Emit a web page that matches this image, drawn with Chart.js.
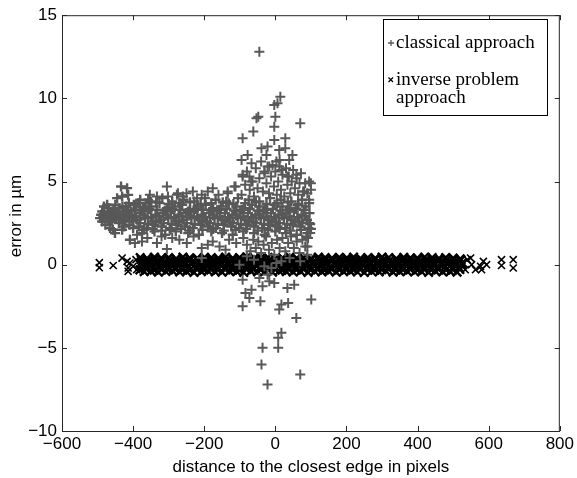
<!DOCTYPE html>
<html>
<head>
<meta charset="utf-8">
<script src="https://cdn.jsdelivr.net/npm/chart.js@4.4.1/dist/chart.umd.min.js"></script>
<style>
  html, body { margin: 0; padding: 0; background: #fff; }
  #box { width: 577px; height: 478px; }
</style>
</head>
<body>
<div id="box"><canvas id="chart" width="577" height="478"></canvas></div>
<script>
// ── data ──
const X_TITLE = 'distance to the closest edge in pixels';
const Y_TITLE = 'error in \u00b5m';
const LEGEND_LABELS = ['classical approach', 'inverse problem', 'approach'];
const X_RANGE = [-600, 800, 200];
const Y_RANGE = [-10, 15, 5];

// classical approach (+)
const classicalTail = [
  [-493,2.8],[-487,3.2],[-487,2.6],[-480,3.0],[-478,2.4],[-473,3.6],[-470,3.1],[-468,3.4],[-465,2.2],
  [-462,2.7],[-459,2.6],[-457,2.1],[-455,3.3],[-451,1.9],[-448,2.9],[-445,4.0],[-442,2.9],[-440,2.5],
  [-438,3.4],[-434,4.7],[-431,2.1],[-431,4.1],[-428,2.6],[-425,2.3],[-423,3.0],[-420,3.5],[-417,4.6],
  [-414,4.2],[-412,3.7],[-410,2.4],[-409,1.5],[-405,3.2],[-403,2.8],[-400,2.2],[-398,3.6],
  [-490,3.0],[-484,2.9],[-476,2.8],[-470,2.6],[-466,3.0],[-460,3.2],[-452,2.8],[-446,3.1],[-440,3.0],
  [-434,2.7],[-428,3.2],[-422,2.7],[-416,2.9],[-408,3.0],[-402,2.6],[-482,3.5],[-450,3.6],[-430,3.5],
  [-415,3.3]
];
const classicalCore = [
  [-380,3.9],[-350,3.8],[-318,4.0],[-290,3.8],[-258,3.9],[-228,3.8],[-198,4.0],[-168,3.9],[-138,3.8],
  [-105,4.0],[-75,3.9],[-45,3.8],[-15,4.0],[15,3.9],[45,3.8],[75,3.9],
  [-365,3.7],[-335,3.75],[-300,3.65],[-270,3.7],[-240,3.75],[-210,3.65],[-180,3.7],[-148,3.75],
  [-118,3.65],[-85,3.7],[-55,3.75],[-25,3.65],[5,3.7],[35,3.75],[65,3.65],[95,3.7],
  [-392,3.6],[-370,3.4],[-349,3.5],[-326,3.7],[-305,3.4],[-283,3.5],[-262,3.6],[-240,3.3],[-219,3.5],
  [-196,3.6],[-175,3.4],[-153,3.5],[-131,3.7],[-110,3.5],[-88,3.4],[-66,3.6],[-45,3.5],[-23,3.3],
  [-2,3.6],[20,3.5],[41,3.4],[63,3.6],[85,3.5],
  [-395,3.3],[-377,3.25],[-355,3.35],[-333,3.3],[-311,3.25],[-290,3.35],[-268,3.3],[-246,3.2],
  [-224,3.35],[-203,3.3],[-181,3.25],[-159,3.3],[-137,3.35],[-116,3.25],[-94,3.3],[-72,3.35],
  [-50,3.25],[-29,3.3],[-7,3.35],[14,3.25],[36,3.3],[58,3.35],[80,3.3],
  [-381,3.1],[-359,3.2],[-337,3.0],[-316,3.1],[-294,3.2],[-272,3.0],[-251,3.1],[-229,3.2],[-207,3.0],
  [-186,3.1],[-164,3.2],[-142,3.1],[-121,3.0],[-99,3.2],[-77,3.1],[-56,3.0],[-34,3.2],[-12,3.1],
  [9,3.0],[31,3.1],[52,3.2],[74,3.0],[96,3.1],
  [-392,2.9],[-371,2.95],[-350,2.85],[-328,2.9],[-306,2.95],[-285,2.85],[-263,2.9],[-241,2.95],
  [-220,2.9],[-198,2.85],[-176,2.95],[-155,2.9],[-133,2.85],[-111,2.95],[-90,2.9],[-68,2.85],
  [-46,2.95],[-25,2.9],[-3,2.85],[19,2.95],[40,2.9],[62,2.85],[84,2.9],
  [-388,2.7],[-366,2.8],[-345,2.6],[-322,2.7],[-301,2.8],[-279,2.6],[-258,2.7],[-236,2.8],[-215,2.7],
  [-192,2.6],[-171,2.8],[-149,2.7],[-127,2.6],[-106,2.8],[-84,2.7],[-62,2.6],[-41,2.8],[-19,2.7],
  [2,2.6],[24,2.8],[45,2.7],[67,2.6],[89,2.7],
  [-380,2.5],[-358,2.45],[-336,2.55],[-314,2.5],[-292,2.45],[-271,2.55],[-249,2.5],[-227,2.45],
  [-205,2.55],[-184,2.5],[-162,2.45],[-140,2.55],[-119,2.5],[-97,2.45],[-75,2.55],[-54,2.5],
  [-32,2.45],[-10,2.55],[11,2.5],[33,2.45],[55,2.55],[76,2.5],[98,2.45],
  [-384,2.3],[-362,2.2],[-340,2.4],[-319,2.3],[-297,2.2],[-275,2.4],[-254,2.3],[-232,2.2],[-210,2.4],
  [-189,2.3],[-167,2.2],[-145,2.4],[-124,2.3],[-102,2.2],[-80,2.4],[-59,2.3],[-37,2.2],[-15,2.4],
  [6,2.3],[28,2.2],[49,2.4],[71,2.3],[93,2.2],
  [-370,2.1],[-345,2.15],[-320,2.05],[-295,2.1],[-265,2.15],[-240,2.05],[-205,2.1],[-175,2.15],
  [-145,2.05],[-112,2.1],[-82,2.15],[-50,2.05],[-20,2.1],[12,2.15],[42,2.05],[72,2.1],[100,2.15],
  [-375,1.9],[-340,2.0],[-310,1.8],[-280,2.0],[-245,1.9],[-215,1.8],[-180,2.0],[-150,1.9],[-120,1.8],
  [-90,2.0],[-60,1.9],[-30,1.8],[0,2.0],[30,1.9],[60,1.8],[90,1.9]
];
const classicalSpread = [
  [-353,4.2],[-358,3.9],[-333,4.1],[-386,3.7],[-372,3.5],[-305,4.7],[-302,4.1],[-277,4.2],[-269,3.7],
  [-260,4.1],[-232,4.4],[-207,4.2],[-176,4.6],[-134,4.3],[-115,4.7],[-92,5.3],[-250,4.3],[-190,4.4],
  [-160,4.2],[-220,4.0],
  [-395,1.3],[-389,1.8],[-375,1.4],[-333,1.3],[-305,0.95],[-249,1.3],[-207,0.4],[-207,1.0],[-157,1.1],
  [-176,1.4],[-360,1.6],[-290,1.6],[-270,1.5],[-230,1.7],[-190,1.2],[-130,1.5],[-110,1.3],[-140,0.9],
  [-320,1.7],[-274,4.3]
];
const classicalRight = [
  [-95,4.2],[-85,4.8],[-80,5.6],[-72,4.5],[-68,5.0],[-60,4.1],[-55,5.8],[-50,4.6],[-45,5.2],[-40,6.2],
  [-35,4.4],[-30,5.5],[-25,4.9],[-22,5.9],[-18,4.3],[-12,5.3],[-8,6.0],[-4,4.7],[0,5.6],[4,4.2],
  [8,5.0],[12,6.3],[16,4.5],[20,5.4],[25,4.1],[30,5.8],[34,4.8],[38,5.3],[42,4.3],[46,5.0],
  [50,5.7],[55,4.6],[60,5.2],[64,4.2],[68,4.9],[72,5.5],[78,4.4],[84,4.9],[90,4.3],[95,3.9],[100,4.5],
  [-90,1.6],[-80,1.2],[-70,0.8],[-62,1.5],[-55,1.0],[-48,1.4],[-40,0.7],[-33,1.2],[-26,1.7],[-18,0.9],
  [-10,1.3],[-3,0.6],[5,1.5],[12,1.0],[20,1.6],[28,0.8],[36,1.3],[44,1.7],[52,1.0],[60,1.4],
  [68,0.7],[76,1.5],[84,1.1],[92,1.6],[98,1.9],[87,1.7],[95,2.5],[90,1.1]
];
const classicalPlume = [
  [-45,12.8],[14,10.1],[6,9.7],[-3,9.6],[-53,8.8],[-48,8.9],[0,8.9],[-3,8.3],[70,8.5],[-62,8.0],
  [-92,7.6],[-3,7.5],[28,7.6],[-39,7.0],[-22,7.1],[11,6.9],[28,7.0],[-95,6.3],[-78,6.6],[48,6.6],
  [-67,6.1],[-25,6.6],[39,6.3],[3,6.2],[-17,5.9],[-31,5.6],[17,5.7],[59,5.4],[-92,5.4],[95,5.0],
  [-64,5.0],[-73,5.3],[100,4.9],[-112,4.7],[-134,4.4],[11,5.9],[34,5.3],[81,4.4]
];
const classicalLow = [
  [-101,0.0],[-31,-0.1],[-11,-0.2],[3,0.1],[17,0.2],[-60,0.3],[40,0.4],[70,0.2],[-80,0.5],[90,0.6],
  [-22,-0.6],[-92,-0.9],[-45,-0.8],[-17,-1.0],[-3,-1.1],[-36,-1.3],[34,-1.4],[53,-1.2],[-67,-1.5],
  [-84,-1.7],[-73,-2.0],[-42,-2.2],[-92,-2.5],[17,-2.4],[36,-2.3],[101,-2.1],[11,-2.7],[59,-3.2],
  [17,-4.1],[8,-4.4],[-36,-5.0],[8,-5.0],[-39,-6.0],[70,-6.6],[-22,-7.2]
];

// inverse problem approach (x) — the near-solid band around zero, top to bottom
const inverseBand = [
  [-380,0.42],[-361,0.38],[-340,0.45],[-321,0.40],[-300,0.43],[-279,0.37],[-260,0.46],[-241,0.41],
  [-220,0.39],[-199,0.44],[-180,0.42],[-161,0.38],[-140,0.45],[-120,0.40],[-101,0.43],[-80,0.47],
  [-59,0.39],[-40,0.42],[-21,0.44],[0,0.38],[20,0.41],[41,0.46],[60,0.40],[79,0.43],[100,0.37],
  [121,0.45],[140,0.42],[159,0.39],[180,0.44],[201,0.41],[220,0.46],[239,0.38],[260,0.43],[281,0.40],
  [300,0.45],[319,0.42],[340,0.37],[361,0.44],[380,0.41],[399,0.39],[420,0.46],[441,0.42],[460,0.38],
  [479,0.43],[500,0.40],[520,0.35],
  [-377,0.31],[-357,0.29],[-338,0.33],[-317,0.30],[-296,0.32],[-277,0.28],[-257,0.31],[-238,0.33],
  [-217,0.29],[-197,0.31],[-176,0.30],[-157,0.32],[-138,0.28],[-117,0.31],[-97,0.33],[-77,0.29],
  [-58,0.30],[-37,0.32],[-16,0.31],[3,0.28],[23,0.33],[42,0.30],[63,0.31],[83,0.29],[102,0.32],
  [123,0.30],[143,0.33],[162,0.28],[183,0.31],[203,0.30],[222,0.32],[243,0.29],[263,0.31],[282,0.33],
  [303,0.30],[323,0.28],[342,0.32],[363,0.31],[383,0.29],[402,0.33],[423,0.30],[443,0.31],[462,0.28],
  [483,0.32],[503,0.30],[522,0.29],
  [-375,0.17],[-356,0.14],[-335,0.20],[-314,0.15],[-295,0.18],[-275,0.13],[-256,0.19],[-235,0.16],
  [-214,0.12],[-195,0.18],[-175,0.15],[-156,0.21],[-135,0.14],[-114,0.17],[-95,0.19],[-75,0.13],
  [-56,0.16],[-35,0.20],[-14,0.15],[5,0.18],[25,0.14],[44,0.17],[65,0.21],[86,0.13],[105,0.16],
  [125,0.19],[144,0.15],[165,0.12],[186,0.18],[205,0.16],[225,0.20],[244,0.14],[265,0.17],[286,0.15],
  [305,0.19],[325,0.13],[344,0.18],[365,0.16],[386,0.14],[405,0.20],[425,0.17],[444,0.15],[465,0.12],
  [486,0.18],[505,0.16],[526,0.11],
  [-374,0.01],[-355,-0.02],[-334,0.03],[-315,-0.01],[-294,0.02],[-274,-0.03],[-255,0.00],[-234,0.04],
  [-215,-0.02],[-194,0.01],[-174,-0.04],[-155,0.02],[-134,0.00],[-115,-0.01],[-94,0.03],[-74,-0.02],
  [-55,0.01],[-34,0.04],[-15,-0.03],[6,0.00],[26,0.02],[45,-0.01],[66,0.03],[85,-0.02],[106,0.01],
  [126,-0.04],[145,0.02],[166,0.00],[185,-0.01],[206,0.03],[226,-0.03],[245,0.01],[266,0.02],[285,-0.02],
  [306,0.00],[326,0.04],[345,-0.01],[366,0.02],[385,-0.03],[406,0.01],[426,0.00],[445,-0.02],[466,0.03],
  [485,0.01],[506,-0.01],[524,0.02],
  [-364,-0.15],[-345,-0.18],[-324,-0.13],[-303,-0.17],[-284,-0.20],[-264,-0.14],[-245,-0.16],[-224,-0.19],
  [-203,-0.12],[-184,-0.17],[-164,-0.15],[-145,-0.20],[-124,-0.14],[-103,-0.18],[-84,-0.16],[-64,-0.13],
  [-45,-0.19],[-24,-0.15],[-3,-0.17],[16,-0.21],[36,-0.14],[55,-0.16],[76,-0.18],[97,-0.13],[116,-0.20],
  [136,-0.15],[155,-0.17],[176,-0.14],[197,-0.19],[216,-0.16],[236,-0.12],[255,-0.18],[276,-0.15],
  [297,-0.20],[316,-0.17],[336,-0.14],[355,-0.16],[376,-0.19],[397,-0.13],[416,-0.17],[436,-0.15],
  [455,-0.18],[476,-0.14],[497,-0.20],[516,-0.16],
  [-381,-0.31],[-362,-0.29],[-341,-0.33],[-320,-0.30],[-301,-0.32],[-281,-0.28],[-262,-0.31],[-241,-0.33],
  [-220,-0.29],[-201,-0.31],[-181,-0.30],[-162,-0.32],[-141,-0.28],[-120,-0.31],[-101,-0.33],[-81,-0.29],
  [-62,-0.30],[-41,-0.32],[-20,-0.31],[-1,-0.28],[19,-0.33],[38,-0.30],[59,-0.31],[80,-0.29],[99,-0.32],
  [119,-0.30],[138,-0.33],[159,-0.28],[180,-0.31],[199,-0.30],[219,-0.32],[238,-0.29],[259,-0.31],
  [280,-0.33],[299,-0.30],[319,-0.28],[338,-0.32],[359,-0.31],[380,-0.29],[399,-0.33],[419,-0.30],
  [438,-0.31],[459,-0.28],[480,-0.32],[499,-0.30],[519,-0.29],
  [-369,-0.42],[-350,-0.39],[-329,-0.45],[-308,-0.41],[-289,-0.37],[-269,-0.44],[-250,-0.40],[-229,-0.46],
  [-208,-0.42],[-189,-0.38],[-169,-0.43],[-150,-0.45],[-129,-0.40],[-108,-0.42],[-89,-0.47],[-69,-0.39],
  [-50,-0.43],[-29,-0.41],[-8,-0.45],[11,-0.38],[31,-0.42],[50,-0.44],[71,-0.40],[92,-0.46],[111,-0.41],
  [131,-0.43],[150,-0.39],[171,-0.45],[192,-0.42],[211,-0.40],[231,-0.44],[250,-0.47],[271,-0.41],
  [292,-0.43],[311,-0.38],[331,-0.45],[350,-0.42],[371,-0.40],[392,-0.44],[411,-0.41],[431,-0.46],
  [450,-0.39],[471,-0.43],[492,-0.42],[511,-0.45]
];
const inverseEdges = [
  [-495,0.12],[-495,-0.18],[-456,-0.05],[-431,0.40],[-417,0.20],[-414,-0.20],[-409,0.10],[-414,-0.40],
  [-400,-0.10],[-392,0.30],[-390,-0.30],
  [534,-0.30],[540,0.30],[549,0.40],[552,0.00],[563,-0.30],[577,-0.10],[580,-0.30],[585,0.20],
  [594,0.00],[636,0.30],[636,-0.05],[669,0.30],[669,-0.20]
];

const classicalDense = [].concat(classicalTail, classicalCore);
const classical = [].concat(classicalDense, classicalSpread, classicalRight, classicalPlume, classicalLow)
  .map(p => ({ x: p[0], y: p[1] }));
const inverse = [].concat(inverseBand, inverseEdges).map(p => ({ x: p[0], y: p[1] }));

// ── styling ──
const GREY = '#585858';
const AXIS = '#262626';
const SANS = '"Liberation Sans", Arial, sans-serif';
const SERIF = '"Liberation Serif", "Times New Roman", serif';
const minus = v => (v < 0 ? '\u2212' + Math.abs(v) : String(v));
// the dense clouds are thousands of marks in the original: draw their stand-ins a bit heavier
const inBand = c => c.dataIndex < inverseBand.length;
const inCore = c => c.dataIndex < classicalDense.length;

// box, inward ticks, axis titles and legend (MATLAB look)
const matlabFrame = {
  id: 'matlabFrame',
  afterDraw(chart) {
    const { ctx, chartArea: a, scales: { x, y } } = chart;
    ctx.save();
    ctx.strokeStyle = AXIS;
    ctx.lineWidth = 1;
    ctx.strokeRect(a.left + 0.5, a.top + 0.5, a.right - a.left - 1, a.bottom - a.top);
    ctx.beginPath();
    x.ticks.forEach(t => {
      const px = Math.round(x.getPixelForValue(t.value)) + 0.5;
      ctx.moveTo(px, a.bottom); ctx.lineTo(px, a.bottom - 5);
      ctx.moveTo(px, a.top);    ctx.lineTo(px, a.top + 5);
    });
    y.ticks.forEach(t => {
      const py = Math.round(y.getPixelForValue(t.value)) + 0.5;
      ctx.moveTo(a.left, py);  ctx.lineTo(a.left + 5, py);
      ctx.moveTo(a.right, py); ctx.lineTo(a.right - 5, py);
    });
    ctx.stroke();

    // axis titles
    ctx.fillStyle = '#000';
    ctx.font = '17px ' + SANS;
    ctx.textAlign = 'center';
    ctx.textBaseline = 'alphabetic';
    ctx.fillText(X_TITLE, (a.left + a.right) / 2, 472);
    ctx.save();
    ctx.translate(21, 216);
    ctx.rotate(-Math.PI / 2);
    ctx.fillText(Y_TITLE, 0, 0);
    ctx.restore();

    // legend
    ctx.fillStyle = '#fff';
    ctx.fillRect(383, 19, 165, 97);
    ctx.strokeStyle = '#000';
    ctx.strokeRect(383.5, 19.5, 164, 96);
    ctx.lineWidth = 1.3;
    ctx.strokeStyle = GREY;
    ctx.beginPath();
    ctx.moveTo(388, 43); ctx.lineTo(394, 43);
    ctx.moveTo(391, 40); ctx.lineTo(391, 46);
    ctx.stroke();
    ctx.strokeStyle = '#000';
    ctx.beginPath();
    ctx.moveTo(388.5, 77.5); ctx.lineTo(393, 82);
    ctx.moveTo(393, 77.5); ctx.lineTo(388.5, 82);
    ctx.stroke();
    ctx.fillStyle = '#000';
    ctx.font = '19px ' + SERIF;
    ctx.textAlign = 'left';
    ctx.fillText(LEGEND_LABELS[0], 396, 48);
    ctx.fillText(LEGEND_LABELS[1], 396, 85);
    ctx.fillText(LEGEND_LABELS[2], 396, 103);
    ctx.restore();
  }
};

new Chart(document.getElementById('chart'), {
  type: 'scatter',
  data: {
    datasets: [
      {
        label: 'classical approach',
        data: classical,
        pointStyle: 'cross',
        pointRadius: 5,
        pointBorderColor: GREY,
        pointBackgroundColor: GREY,
        pointBorderWidth: c => (inCore(c) ? 2.4 : 2),
      },
      {
        label: 'inverse problem approach',
        data: inverse,
        pointStyle: 'crossRot',
        pointRadius: c => (inBand(c) ? 6 : 5),
        pointBorderColor: '#000',
        pointBackgroundColor: '#000',
        pointBorderWidth: c => (inBand(c) ? 2.4 : 1.6),
      }
    ]
  },
  options: {
    responsive: false,
    animation: false,
    events: [],
    layout: { padding: { left: 0, right: 15, top: 9, bottom: 0 } },
    plugins: { legend: { display: false }, tooltip: { enabled: false } },
    scales: {
      x: {
        type: 'linear',
        min: X_RANGE[0], max: X_RANGE[1],
        grid: { display: false, drawTicks: false },
        border: { display: false },
        afterFit: s => { s.height = 47; },
        ticks: {
          stepSize: X_RANGE[2], padding: 3, color: '#000', maxRotation: 0,
          font: { family: SANS, size: 17 },
          callback: v => minus(v)
        }
      },
      y: {
        type: 'linear',
        min: Y_RANGE[0], max: Y_RANGE[1],
        grid: { display: false, drawTicks: false },
        border: { display: false },
        afterFit: s => { s.width = 62; },
        ticks: {
          stepSize: Y_RANGE[2], padding: 5, color: '#000',
          font: { family: SANS, size: 17 },
          callback: v => minus(v)
        }
      }
    }
  },
  plugins: [matlabFrame]
});
</script>
</body>
</html>
